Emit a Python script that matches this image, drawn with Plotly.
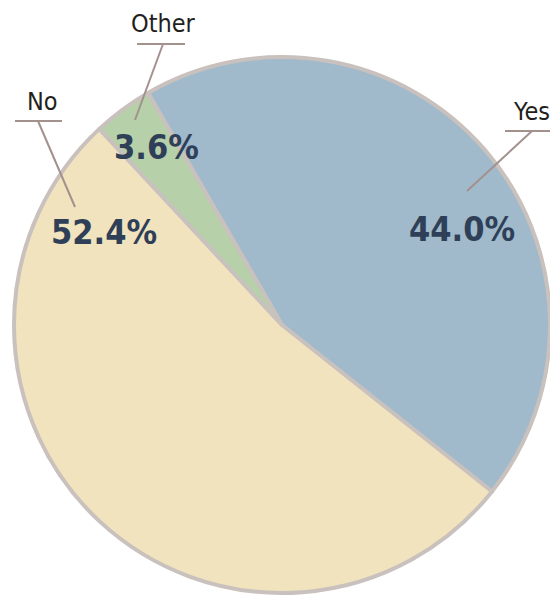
import plotly.graph_objects as go

# Survey answers and their shares (%)
labels = ["Yes", "No", "Other"]
values = [44.0, 52.4, 3.6]
slice_colors = ["#a0bacb", "#f1e3bd", "#b6d0a9"]

W, H = 550, 597
RIM = "#c9c1bd"
LEADER = "#a3918e"
PCT_COLOR = "#2e3f57"
COND = "DejaVu Sans Condensed, Liberation Sans Narrow, sans-serif"


def px(x, y):
    """Pixel position (from top-left) -> paper coordinates."""
    return x / W, 1 - y / H


fig = go.Figure(
    go.Pie(
        labels=labels,
        values=values,
        sort=False,
        direction="clockwise",
        rotation=-30,
        marker=dict(colors=slice_colors, line=dict(color=RIM, width=4)),
        textinfo="none",
        hoverinfo="label+percent",
        domain=dict(x=[14 / W, 1], y=[1 - 594 / H, 1 - 56 / H]),
        showlegend=False,
    )
)

# percentage labels and callout names
pct_pos = {"Yes": (462, 229), "No": (104, 232), "Other": (156, 147)}
name_pos = {"Yes": (531, 111), "No": (42, 101), "Other": (163, 23)}
underline = {"Yes": (505, 552, 131), "No": (15, 62, 121), "Other": (137, 185, 44)}
leader = {"Yes": ((532, 131), (467, 191)),
          "No": ((38, 121), (75, 207)),
          "Other": ((163, 44), (135, 120))}

annotations = []
shapes = []
for lab, val in zip(labels, values):
    x, y = px(*pct_pos[lab])
    annotations.append(dict(
        x=x, y=y, xref="paper", yref="paper", text=f"<b>{val:.1f}%</b>",
        showarrow=False, xanchor="center", yanchor="middle",
        font=dict(family=COND, size=34, color=PCT_COLOR)))
    x, y = px(*name_pos[lab])
    annotations.append(dict(
        x=x, y=y, xref="paper", yref="paper", text=lab,
        showarrow=False, xanchor="center", yanchor="middle",
        font=dict(family=COND, size=25, color="#231f20")))
    x0, x1, yy = underline[lab]
    a, b = px(x0, yy), px(x1, yy)
    shapes.append(dict(type="line", xref="paper", yref="paper",
                       x0=a[0], y0=a[1], x1=b[0], y1=b[1],
                       line=dict(color=LEADER, width=2)))
    (p0, p1) = leader[lab]
    a, b = px(*p0), px(*p1)
    shapes.append(dict(type="line", xref="paper", yref="paper",
                       x0=a[0], y0=a[1], x1=b[0], y1=b[1],
                       line=dict(color=LEADER, width=2)))

fig.update_layout(
    width=W, height=H,
    margin=dict(l=0, r=0, t=0, b=0),
    paper_bgcolor="white", plot_bgcolor="white",
    annotations=annotations, shapes=shapes,
)

fig.write_html("out.html")
